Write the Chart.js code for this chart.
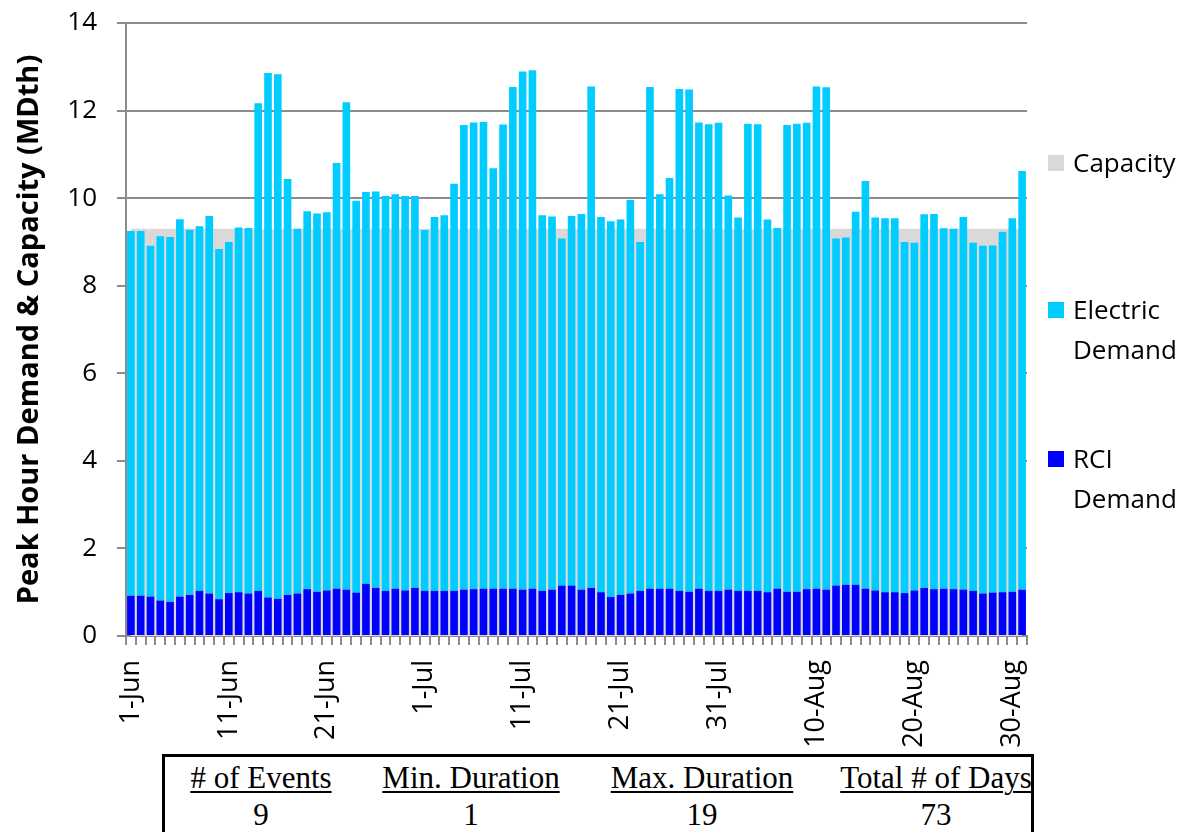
<!DOCTYPE html>
<html>
<head>
<meta charset="utf-8">
<script src="https://cdn.jsdelivr.net/npm/chart.js@4.4.1/dist/chart.umd.min.js"></script>
<style>
html,body{margin:0;padding:0;background:#fff;width:1185px;height:832px;overflow:hidden;}
#wrap{position:relative;width:1185px;height:832px;}
#c{position:absolute;left:0;top:0;}
.leg{position:absolute;left:1073px;font-family:'Open Sans',sans-serif;font-size:26px;color:#000;line-height:40px;white-space:nowrap;}
.sw{position:absolute;left:1048px;width:16px;height:16px;}
#tbl{position:absolute;left:162px;top:754px;width:872px;height:100px;border:3px solid #000;box-sizing:border-box;font-family:'Liberation Serif','Times New Roman',serif;font-size:31px;color:#000;}
.col{position:absolute;top:2px;width:260px;text-align:center;line-height:37px;}
.col u{text-decoration:underline;text-underline-offset:3px;text-decoration-thickness:2px;}
</style>
</head>
<body>
<div id="wrap">
<canvas id="c" width="1185" height="752"></canvas>
<div class="sw" style="top:155px;background:#d9d9d9"></div>
<div class="leg" style="top:142px">Capacity</div>
<div class="sw" style="top:302px;background:#00ccff"></div>
<div class="leg" style="top:289px">Electric<br>Demand</div>
<div class="sw" style="top:451px;background:#0000ff"></div>
<div class="leg" style="top:438px">RCI<br>Demand</div>
<div id="tbl"></div>
</div>
<script>
const categories = [
 '1-Jun','2-Jun','3-Jun','4-Jun','5-Jun','6-Jun','7-Jun','8-Jun','9-Jun','10-Jun',
 '11-Jun','12-Jun','13-Jun','14-Jun','15-Jun','16-Jun','17-Jun','18-Jun','19-Jun','20-Jun',
 '21-Jun','22-Jun','23-Jun','24-Jun','25-Jun','26-Jun','27-Jun','28-Jun','29-Jun','30-Jun',
 '1-Jul','2-Jul','3-Jul','4-Jul','5-Jul','6-Jul','7-Jul','8-Jul','9-Jul','10-Jul',
 '11-Jul','12-Jul','13-Jul','14-Jul','15-Jul','16-Jul','17-Jul','18-Jul','19-Jul','20-Jul',
 '21-Jul','22-Jul','23-Jul','24-Jul','25-Jul','26-Jul','27-Jul','28-Jul','29-Jul','30-Jul','31-Jul',
 '1-Aug','2-Aug','3-Aug','4-Aug','5-Aug','6-Aug','7-Aug','8-Aug','9-Aug','10-Aug',
 '11-Aug','12-Aug','13-Aug','14-Aug','15-Aug','16-Aug','17-Aug','18-Aug','19-Aug','20-Aug',
 '21-Aug','22-Aug','23-Aug','24-Aug','25-Aug','26-Aug','27-Aug','28-Aug','29-Aug','30-Aug','31-Aug'
];
const tickLabels = ['1-Jun','11-Jun','21-Jun','1-Jul','11-Jul','21-Jul','31-Jul','10-Aug','20-Aug','30-Aug'];

const capacity = [
 9.3,9.3,9.3,9.3,9.3,9.3,9.3,9.3,9.3,9.3,
 9.3,9.3,9.3,9.3,9.3,9.3,9.3,9.3,9.3,9.3,
 9.3,9.3,9.3,9.3,9.3,9.3,9.3,9.3,9.3,9.3,
 9.3,9.3,9.3,9.3,9.3,9.3,9.3,9.3,9.3,9.3,
 9.3,9.3,9.3,9.3,9.3,9.3,9.3,9.3,9.3,9.3,
 9.3,9.3,9.3,9.3,9.3,9.3,9.3,9.3,9.3,9.3,9.3,
 9.3,9.3,9.3,9.3,9.3,9.3,9.3,9.3,9.3,9.3,
 9.3,9.3,9.3,9.3,9.3,9.3,9.3,9.3,9.3,9.3,
 9.3,9.3,9.3,9.3,9.3,9.3,9.3,9.3,9.3,9.3,9.3
];

const rciDemand = [
 0.92,0.92,0.90,0.81,0.78,0.90,0.94,1.03,0.97,0.84,
 0.98,1.00,0.97,1.03,0.88,0.85,0.94,0.97,1.07,1.01,
 1.04,1.08,1.06,0.99,1.19,1.10,1.03,1.08,1.04,1.10,
 1.03,1.03,1.03,1.03,1.06,1.07,1.08,1.08,1.08,1.08,
 1.06,1.08,1.03,1.06,1.15,1.15,1.06,1.10,1.00,0.89,
 0.94,0.97,1.03,1.08,1.08,1.08,1.03,1.01,1.08,1.03,1.03,
 1.06,1.03,1.03,1.03,1.00,1.08,1.01,1.01,1.07,1.08,
 1.06,1.15,1.17,1.17,1.08,1.04,1.00,1.00,0.98,1.04,
 1.10,1.07,1.08,1.07,1.06,1.03,0.97,0.99,1.00,1.01,1.06
];

const electricDemand = [
 8.33,8.33,8.01,8.32,8.33,8.62,8.34,8.33,8.62,8.00,
 8.02,8.33,8.35,11.14,11.98,11.98,9.50,8.33,8.63,8.64,
 8.64,9.72,11.13,8.95,8.95,9.05,9.02,9.01,9.01,8.95,
 8.24,8.54,8.58,9.30,10.61,10.66,10.66,9.60,10.60,11.46,
 11.83,11.84,8.58,8.52,7.93,8.44,8.58,11.45,8.57,8.58,
 8.57,8.99,7.97,11.46,9.01,9.38,11.46,11.47,10.65,10.66,10.69,
 9.00,8.53,10.67,10.66,8.51,8.24,10.66,10.69,10.65,11.47,
 11.47,7.93,7.93,8.52,9.31,8.52,8.54,8.54,8.02,7.94,
 8.53,8.57,8.23,8.23,8.51,7.95,7.94,7.93,8.23,8.53,9.56
];

const tableHeaders = ['# of Events','Min. Duration','Max. Duration','Total # of Days'];
const tableValues = ['9','1','19','73'];
const tableCenters = [96, 306, 537, 771];

const tbl = document.getElementById('tbl');
tableHeaders.forEach((h, i) => {
  const d = document.createElement('div');
  d.className = 'col';
  d.style.left = (tableCenters[i] - 130) + 'px';
  d.innerHTML = '<u>' + h + '</u><br>' + tableValues[i];
  tbl.appendChild(d);
});

const gridGray = '#8c8c8c';
const yTickFont = {family: "'Open Sans', sans-serif", size: 26};
const xTickFont = {family: "'Open Sans', sans-serif", size: 27};

new Chart(document.getElementById('c'), {
  type: 'bar',
  data: {
    labels: categories,
    datasets: [
      {
        type: 'bar', label: 'RCI Demand', data: rciDemand, stack: 'demand',
        backgroundColor: '#0000ff', barPercentage: 0.78, categoryPercentage: 1.0, order: 1
      },
      {
        type: 'bar', label: 'Electric Demand', data: electricDemand, stack: 'demand',
        backgroundColor: '#00ccff', barPercentage: 0.78, categoryPercentage: 1.0, order: 2
      },
      {
        type: 'line', label: 'Capacity', data: capacity, stack: 'cap',
        borderWidth: 0, borderColor: 'rgba(0,0,0,0)', backgroundColor: '#d9d9d9',
        fill: 'origin', pointRadius: 0, tension: 0, order: 3
      }
    ]
  },
  options: {
    responsive: false,
    animation: false,
    events: [],
    layout: {padding: {left: 12, right: 158, top: 23, bottom: 0}},
    plugins: {legend: {display: false}, tooltip: {enabled: false}},
    scales: {
      x: {
        stacked: true,
        offset: true,
        grid: {display: true, offset: true, drawOnChartArea: false, drawTicks: true, tickLength: 9, color: gridGray, lineWidth: 2},
        border: {display: true, color: gridGray, width: 2},
        ticks: {
          autoSkip: false, maxRotation: 90, minRotation: 90, color: '#000', font: xTickFont, padding: 15,
          callback: function(v, i) { const l = categories[i]; return tickLabels.includes(l) ? l : ''; }
        },
        afterFit: function(s) { s.height = 116; s.paddingLeft = 0; s.paddingRight = 0; }
      },
      y: {
        stacked: true,
        min: 0, max: 14,
        ticks: {stepSize: 2, color: '#000', font: yTickFont, padding: 20},
        grid: {color: gridGray, lineWidth: 2, tickLength: 9, drawTicks: true},
        border: {display: true, color: gridGray, width: 2},
        title: {display: true, text: 'Peak Hour Demand & Capacity (MDth)', color: '#000',
                font: {family: "'Open Sans', sans-serif", size: 29, weight: 'bold'}, padding: 0},
        afterFit: function(s) { s.width = 114; s.paddingTop = 0; s.paddingBottom = 0; }
      }
    }
  }
});
</script>
</body>
</html>
